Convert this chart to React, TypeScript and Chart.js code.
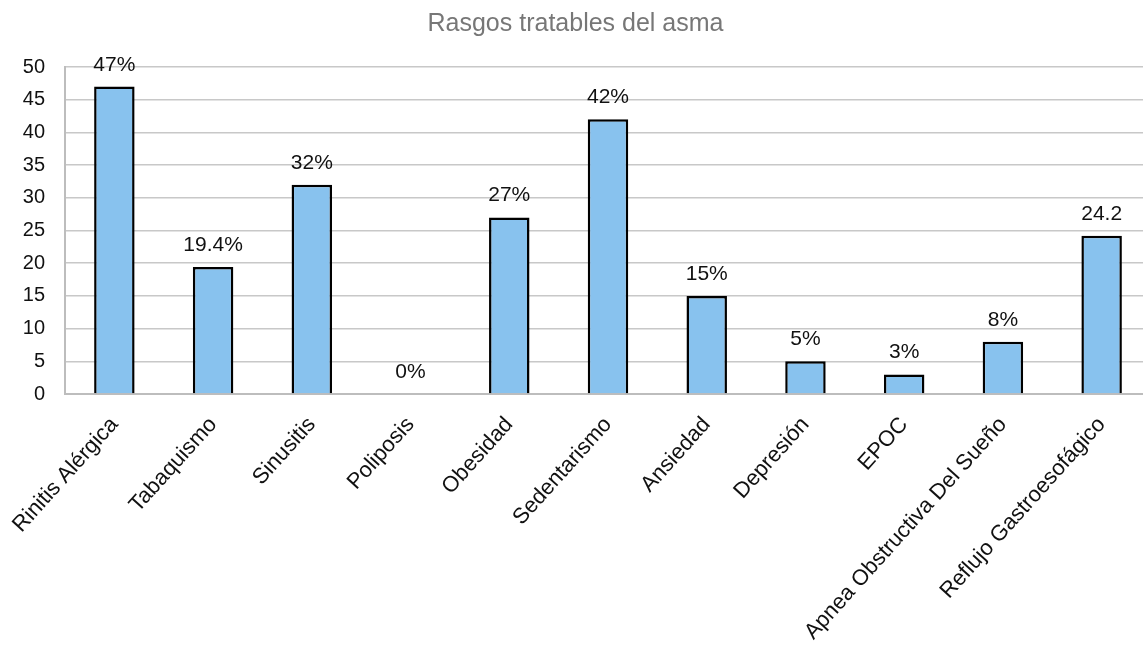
import React, { useEffect, useRef } from "react";
import { Chart, registerables } from "chart.js";

Chart.register(...registerables);

const categories = [
  "Rinitis Alérgica",
  "Tabaquismo",
  "Sinusitis",
  "Poliposis",
  "Obesidad",
  "Sedentarismo",
  "Ansiedad",
  "Depresión",
  "EPOC",
  "Apnea Obstructiva Del Sueño",
  "Reflujo Gastroesofágico",
];

const values = [47, 19.4, 32, 0, 27, 42, 15, 5, 3, 8, 24.2];

const valueLabels = ["47%", "19.4%", "32%", "0%", "27%", "42%", "15%", "5%", "3%", "8%", "24.2"];

const yTicks = [0, 5, 10, 15, 20, 25, 30, 35, 40, 45, 50];

const FONT = "'Liberation Sans', Arial, sans-serif";

// The plot runs a little past the visible right edge, so the canvas is wider than its frame
const CANVAS_W = 1151;
const CANVAS_H = 650;

// Writes the value text above each bar
const barValueLabels = {
  id: "barValueLabels",
  afterDatasetsDraw(chart: any) {
    const ctx = chart.ctx;
    const meta = chart.getDatasetMeta(0);
    ctx.save();
    ctx.font = `21px ${FONT}`;
    ctx.fillStyle = "#111";
    ctx.textAlign = "center";
    ctx.textBaseline = "alphabetic";
    meta.data.forEach((bar: any, i: number) => {
      ctx.fillText(valueLabels[i], bar.x, bar.y - 16);
    });
    ctx.restore();
  },
};

export default function App() {
  const canvasRef = useRef<HTMLCanvasElement | null>(null);

  useEffect(() => {
    if (!canvasRef.current) return;
    const chart = new Chart(canvasRef.current, {
      type: "bar",
      data: {
        labels: categories,
        datasets: [
          {
            data: values,
            backgroundColor: "#88C2EE",
            borderColor: "#000",
            borderWidth: 2.5,
            barPercentage: 0.41,
            categoryPercentage: 1,
          },
        ],
      },
      options: {
        responsive: false,
        animation: false,
        devicePixelRatio: 1,
        layout: { padding: { left: 0, right: 0, top: 0, bottom: 0 } },
        plugins: {
          legend: { display: false },
          tooltip: { enabled: false },
          title: {
            display: true,
            text: "Rasgos tratables del asma",
            color: "#777",
            font: { family: FONT, size: 25, weight: "normal" },
            padding: { top: 9, bottom: 28 },
          },
        },
        scales: {
          x: {
            grid: { display: false, drawTicks: false },
            border: { color: "#bdbdbd", width: 2 },
            ticks: {
              color: "#111",
              font: { family: FONT, size: 22 },
              maxRotation: 48,
              minRotation: 48,
              padding: 18,
              autoSkip: false,
            },
            afterFit(scale: any) {
              scale.height = 256;
              scale.paddingLeft = 0;
              scale.paddingRight = 0;
            },
          },
          y: {
            min: 0,
            max: 50,
            afterBuildTicks(scale: any) {
              scale.ticks = yTicks.map((v) => ({ value: v }));
            },
            grid: { color: "#c8c8c8", lineWidth: 1.5, drawTicks: false },
            border: { color: "#bdbdbd", width: 2 },
            ticks: {
              color: "#111",
              font: { family: FONT, size: 20 },
              padding: 20,
            },
            afterFit(scale: any) {
              scale.width = 65;
              scale.paddingTop = 0;
              scale.paddingBottom = 0;
            },
          },
        },
      },
      plugins: [barValueLabels],
    });
    return () => chart.destroy();
  }, []);

  return (
    <div
      style={{
        position: "fixed",
        left: 0,
        top: 0,
        width: 1143,
        height: 650,
        overflow: "hidden",
        background: "#fff",
      }}
    >
      <canvas ref={canvasRef} width={CANVAS_W} height={CANVAS_H} />
    </div>
  );
}
